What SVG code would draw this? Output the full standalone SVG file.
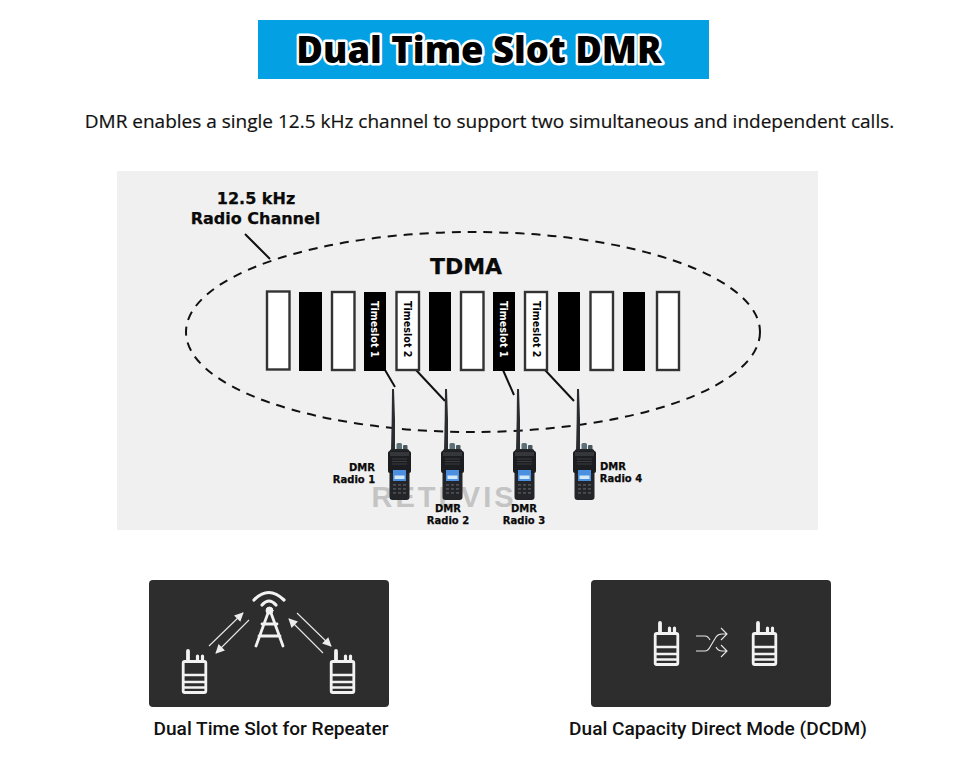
<svg xmlns="http://www.w3.org/2000/svg" width="960" height="774" viewBox="0 0 960 774">
<style>
.lbl{font-family:"DejaVu Sans",sans-serif;font-weight:700;fill:#0a0a0a;stroke:#0a0a0a;stroke-width:.25px;text-anchor:middle}
.w{fill:#fff;stroke:#333;stroke-width:2.4}
.b{fill:#000}
.sl{font-family:"DejaVu Sans",sans-serif;font-weight:700;font-size:9.600px}
.cap{font-family:"Roboto",sans-serif;font-weight:500;font-size:19.100px;fill:#111;text-anchor:middle}
.lead{stroke:#111;stroke-width:2;fill:none}
.ico{fill:none;stroke:#f2f2f2;stroke-linecap:round;stroke-linejoin:round}
.thin{stroke:#e8e8e8;stroke-width:1.100;fill:none}
.key{fill:#4b4e52}
</style>
<defs>
<marker id="ah" viewBox="0 0 10 10" refX="9" refY="5" markerWidth="10" markerHeight="9" orient="auto" markerUnits="userSpaceOnUse"><path d="M0 0L10 5L0 10z" fill="#ececec"/></marker>
<g id="radio">
<path d="M-1 0L1 0L2 30L2 62L-2 62L-1.300 30z" fill="#2a2c30"/>
<rect x="3.500" y="54" width="5.500" height="8" rx="1.500" fill="#5c7078"/>
<rect x="10" y="56" width="4.500" height="6" rx="1" fill="#4a585f"/>
<rect x="-3.500" y="60" width="20" height="51" rx="3" fill="#232528"/>
<rect x="-5" y="62" width="23" height="22" rx="2" fill="#1b1d20"/>
<rect x="-3" y="63" width="19" height="4" fill="#35373a"/>
<path d="M-1 70H14M-1 72.500H14M-1 75H14" stroke="#3a3c40" stroke-width="1"/>
<rect x="0" y="81" width="13" height="11" fill="#4a8fe0"/>
<rect x="1.500" y="86.500" width="10" height="3.500" fill="#d3e8f7"/>
<rect class="key" x="0" y="95" width="3" height="1.800"/><rect class="key" x="5" y="95" width="3" height="1.800"/><rect class="key" x="10" y="95" width="3" height="1.800"/>
<rect class="key" x="0" y="99" width="3" height="1.800"/><rect class="key" x="5" y="99" width="3" height="1.800"/><rect class="key" x="10" y="99" width="3" height="1.800"/>
<rect class="key" x="0" y="103" width="3" height="1.800"/><rect class="key" x="5" y="103" width="3" height="1.800"/><rect class="key" x="10" y="103" width="3" height="1.800"/>
</g>
<g id="walkie" class="ico">
<rect x="-11.300" y="-15.500" width="22.600" height="31" rx="1.500" stroke-width="2.800"/>
<path d="M-11 -2H11M-11 5H11M-11 10.500H11" stroke-width="2.600"/>
<path d="M-6.500 -16V-26" stroke-width="3.800"/>
<path d="M3 -16V-21M8 -16V-21" stroke-width="3.200"/>
</g>
</defs>
<rect width="960" height="774" fill="#fff"/>

<g id="title">
<rect x="258" y="20" width="451" height="59" fill="#04a0e4"/>
<text x="479" y="63" text-anchor="middle" font-family="'Open Sans',sans-serif" font-weight="800" font-size="36.400" fill="#000" stroke="#fff" stroke-width="5" paint-order="stroke" stroke-linejoin="round">Dual Time Slot DMR</text>
</g>
<text id="subtitle" x="489.500" y="128" text-anchor="middle" font-family="'Open Sans',sans-serif" font-size="19" font-weight="500" fill="#111" stroke="#111" stroke-width=".2">DMR enables a single 12.5 kHz channel to support two simultaneous and independent calls.</text>

<g id="panel">
<rect x="117" y="171" width="701" height="359" fill="#f0f0f0"/>
</g>
<text id="watermark" x="444" y="507" text-anchor="middle" font-family="'Liberation Sans',sans-serif" font-weight="700" font-size="29" letter-spacing="3" fill="#c4c4c4">RETEVIS</text>
<g id="connectors">
<ellipse cx="473" cy="332" rx="287" ry="100" fill="none" stroke="#111" stroke-width="2" stroke-dasharray="9 7"/>
<path class="lead" d="M245 234L270 259M385 370L395 387M416 370L445 401M503 370L514 395M545 370L574 401"/>
</g>
<g id="channel-label">
<text class="lbl" font-size="16" x="256" y="204">12.5 kHz</text>
<text class="lbl" font-size="16" x="255.500" y="224">Radio Channel</text>
</g>
<text id="tdma" class="lbl" font-size="22" x="466" y="274">TDMA</text>

<g id="slots">
<rect class="w" x="267" y="291.500" width="22.500" height="78"/>
<rect class="b" x="299" y="292" width="23" height="79"/>
<rect class="w" x="332" y="292" width="22.500" height="78"/>
<rect class="b" x="364" y="292" width="22" height="79"/>
<rect class="w" x="396.500" y="292" width="22.500" height="78"/>
<rect class="b" x="429" y="292" width="22" height="79"/>
<rect class="w" x="461" y="292" width="22.500" height="78"/>
<rect class="b" x="493" y="292" width="22" height="79"/>
<rect class="w" x="525" y="292" width="22" height="78"/>
<rect class="b" x="558" y="292" width="22" height="79"/>
<rect class="w" x="590.500" y="292" width="22.500" height="78"/>
<rect class="b" x="623" y="292" width="22" height="79"/>
<rect class="w" x="657" y="292" width="22" height="78"/>
<text class="sl" fill="#fff" transform="translate(371,301) rotate(90)">Timeslot 1</text>
<text class="sl" fill="#000" transform="translate(404,301) rotate(90)">Timeslot 2</text>
<text class="sl" fill="#fff" transform="translate(500,301) rotate(90)">Timeslot 1</text>
<text class="sl" fill="#000" transform="translate(533,301) rotate(90)">Timeslot 2</text>
</g>

<g id="radio-1"><use href="#radio" x="393" y="389"/>
<text class="lbl" font-size="10" x="362" y="471">DMR</text><text class="lbl" font-size="10" x="354" y="483">Radio 1</text></g>
<g id="radio-2"><use href="#radio" x="446" y="389"/>
<text class="lbl" font-size="10" x="448" y="512">DMR</text><text class="lbl" font-size="10" x="448" y="524">Radio 2</text></g>
<g id="radio-3"><use href="#radio" x="518" y="389"/>
<text class="lbl" font-size="10" x="524" y="512">DMR</text><text class="lbl" font-size="10" x="524" y="524">Radio 3</text></g>
<g id="radio-4"><use href="#radio" x="578" y="389"/>
<text class="lbl" font-size="10" x="613" y="470">DMR</text><text class="lbl" font-size="10" x="621" y="482">Radio 4</text></g>

<g id="repeater-card">
<rect x="149" y="580" width="240" height="127" rx="4" fill="#2d2d2d"/>
<g class="ico">
<path d="M254 600Q268.500 585 284 600" stroke-width="3.200"/>
<path d="M262 605Q269 597 276 605" stroke-width="3.200"/>
<circle cx="269.500" cy="610.500" r="3.500" fill="#f2f2f2" stroke-width="1"/>
<path d="M268 613L256 646M271 613L283 646M262 624H277M259 636H280" stroke-width="2.800"/>
</g>
<path class="thin" marker-end="url(#ah)" d="M209 646L243 613"/>
<path class="thin" marker-end="url(#ah)" d="M249 620L216 653"/>
<path class="thin" marker-end="url(#ah)" d="M297 613L331 646"/>
<path class="thin" marker-end="url(#ah)" d="M323 653L289 619"/>
<use href="#walkie" x="194.500" y="677"/>
<use href="#walkie" x="342.500" y="677"/>
</g>
<text id="repeater-caption" class="cap" x="271" y="735">Dual Time Slot for Repeater</text>

<g id="direct-card">
<rect x="591" y="580" width="240" height="127" rx="4" fill="#2d2d2d"/>
<use href="#walkie" x="666.500" y="649"/>
<use href="#walkie" x="764.500" y="649"/>
<path class="thin" stroke-width="1.200" d="M696 651H705Q708 651 710 647L716 637Q718 634 722 634H727M696 636H705Q708 636 710 640M716 647Q718 651 722 651H727M721 628L727 634L721 640M721 645L727 651L721 657"/>
</g>
<text id="direct-caption" class="cap" x="718" y="735">Dual Capacity Direct Mode (DCDM)</text>
</svg>
